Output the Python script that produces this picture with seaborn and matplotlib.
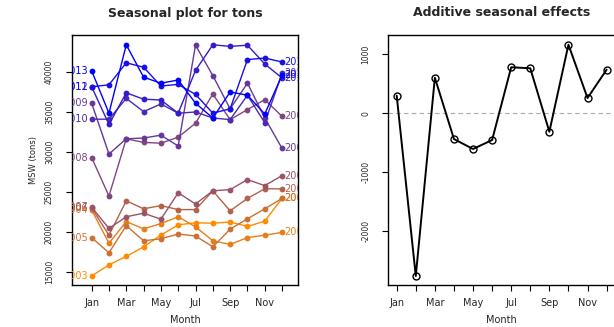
import numpy as np
import pandas as pd
import matplotlib
matplotlib.use("Agg")
import matplotlib.pyplot as plt
import seaborn as sns

months = ["Jan", "Feb", "Mar", "Apr", "May", "Jun", "Jul", "Aug", "Sep", "Oct", "Nov", "Dec"]
years = [2003, 2004, 2005, 2006, 2007, 2008, 2009, 2010, 2011, 2012, 2013]

tons_2003 = [14500, 15900, 16950, 18150, 19600, 20900, 21150, 21100, 21250, 20700, 21350, 24200]
tons_2004 = [22750, 18600, 21300, 20400, 21050, 21900, 20650, 18900, 18450, 19300, 19600, 19950]
tons_2005 = [19300, 17400, 20800, 18900, 19150, 19750, 19500, 18150, 20350, 21650, 22900, 24200]
tons_2006 = [23000, 19600, 23900, 22900, 23300, 22800, 22800, 25150, 22650, 24200, 25400, 25400]
tons_2007 = [23100, 20450, 21900, 22350, 21600, 24900, 23500, 25150, 25300, 26550, 25800, 27050]
tons_2008 = [29300, 24500, 31650, 31200, 31100, 31850, 33600, 37250, 34050, 35300, 36550, 34450]
tons_2009 = [36100, 29750, 31650, 31750, 32100, 30750, 43350, 39550, 35400, 38600, 34250, 30450]
tons_2010 = [34100, 34100, 36700, 35050, 36000, 34850, 35000, 34250, 34050, 37100, 33650, 39850]
tons_2011 = [38150, 33450, 37400, 36600, 36500, 34850, 40200, 43400, 43200, 43350, 41000, 39250]
tons_2012 = [38150, 38400, 41150, 40600, 38250, 38450, 37200, 34850, 35400, 41550, 41750, 41250]
tons_2013 = [40150, 34850, 43400, 39350, 38600, 39000, 36100, 34250, 37500, 37100, 34750, 39600]

seasonal_effects = [298, -2758, 603, -436, -605, -453, 780, 763, -312, 1163, 259, 739]

series = [tons_2003, tons_2004, tons_2005, tons_2006, tons_2007, tons_2008,
          tons_2009, tons_2010, tons_2011, tons_2012, tons_2013]

rows = []
for yr, vals in zip(years, series):
    for i, v in enumerate(vals):
        rows.append({"year": str(yr), "month": i, "tons": v})
df = pd.DataFrame(rows)
df_eff = pd.DataFrame({"month": np.arange(12), "effect": seasonal_effects})

# colour ramp darkorange -> blue
c0 = np.array([255, 140, 0]) / 255.0
c1 = np.array([0, 0, 255]) / 255.0
pal = [tuple(c0 + (c1 - c0) * k / (len(years) - 1)) for k in range(len(years))]
palette = {str(y): c for y, c in zip(years, pal)}

sns.set_style("ticks")
plt.rcParams["font.family"] = ["DejaVu Sans"]

fig = plt.figure(figsize=(6.14, 3.27), dpi=100)
W, H = 614.0, 327.0
ax1 = fig.add_axes([72 / W, 1 - 285 / H, (298 - 72) / W, (285 - 35) / H])
ax2 = fig.add_axes([388.3 / W, 1 - 285 / H, (615 - 388.3) / W, (285 - 35) / H])

sns.lineplot(data=df, x="month", y="tons", hue="year", hue_order=[str(y) for y in years],
             palette=palette, marker="o", markersize=4.2, markeredgewidth=0,
             linewidth=1.0, legend=False, estimator=None, sort=False, ax=ax1)

for yr, vals, c in zip(years, series, pal):
    ax1.text(-0.22, vals[0], str(yr), color=c, ha="right", va="center",
             fontsize=7, clip_on=True)
    ax1.text(11.15, vals[-1], str(yr), color=c, ha="left", va="center",
             fontsize=7, clip_on=True)

ax1.set_xlim(-1.135, 11.92)
ax1.set_ylim(13375, 44625)
ax1.set_xticks(range(12))
ax1.set_xticklabels([m if i % 2 == 0 else "" for i, m in enumerate(months)])
ax1.set_yticks([15000, 20000, 25000, 30000, 35000, 40000])
ax1.set_yticklabels(["15000", "20000", "25000", "30000", "35000", "40000"])
ax1.set_xlabel("")
ax1.set_ylabel("")
ax1.text(0.5, -0.14, "Month", transform=ax1.transAxes, ha="center", va="center", fontsize=7)
ax1.text(-0.172, 0.5, "MSW (tons)", transform=ax1.transAxes, ha="center", va="center",
         rotation=90, fontsize=6)
ax1.text(0.5, 1.088, "Seasonal plot for tons", transform=ax1.transAxes, ha="center",
         va="center", fontsize=9, fontweight="bold")

sns.lineplot(data=df_eff, x="month", y="effect", color="black", linewidth=1.4,
             marker="o", markersize=5, markerfacecolor="none", markeredgecolor="black",
             markeredgewidth=1.0, legend=False, estimator=None, sort=False, ax=ax2)
ax2.axhline(0, color="#aaaaaa", linestyle=(0, (4, 3)), linewidth=0.8, zorder=0)
ax2.set_xlim(-0.44, 11.44)
ax2.set_ylim(-2910, 1327)
ax2.set_xticks(range(12))
ax2.set_xticklabels([m if i % 2 == 0 else "" for i, m in enumerate(months)])
ax2.set_yticks([-2000, -1000, 0, 1000])
ax2.set_yticklabels(["-2000", "-1000", "0", "1000"])
ax2.set_xlabel("")
ax2.set_ylabel("")
ax2.text(0.5, -0.14, "Month", transform=ax2.transAxes, ha="center", va="center", fontsize=7)
ax2.text(0.5, 1.088, "Additive seasonal effects", transform=ax2.transAxes, ha="center",
         va="center", fontsize=9, fontweight="bold")

for ax in (ax1, ax2):
    for s in ax.spines.values():
        s.set_visible(True)
        s.set_color("black")
        s.set_linewidth(1.0)
    ax.tick_params(axis="both", direction="out", length=4, width=0.8, color="black")
    ax.tick_params(axis="x", labelsize=7, pad=5)
    ax.tick_params(axis="y", labelsize=5.5, pad=9, labelrotation=90)
    for lab in ax.get_yticklabels():
        lab.set_va("center")

fig.savefig("out.png", dpi=100, facecolor="white")
